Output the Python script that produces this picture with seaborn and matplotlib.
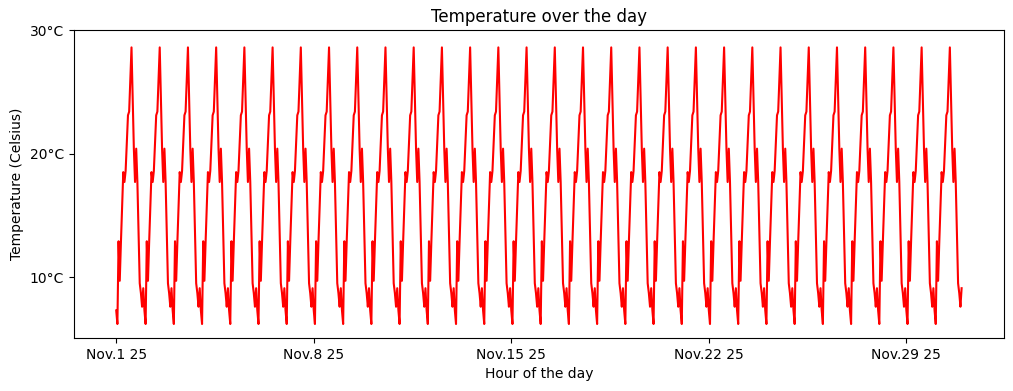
import matplotlib
matplotlib.use("Agg")
import matplotlib.pyplot as plt
import matplotlib.dates as mdates
from matplotlib.ticker import FuncFormatter
import pandas as pd
import numpy as np
import seaborn as sns

# hourly temperature profile (every day looks the same)
daily_temps = [7.3, 6.2, 12.9, 9.7, 12.8, 15.6, 18.5, 17.7, 18.6, 20.8, 23.1, 23.4,
               26.0, 28.6, 24.5, 20.4, 17.7, 20.4, 17.7, 13.6, 9.5, 8.7, 7.6, 9.1]
n_days = 30
start_date = "2025-11-01"
tick_dates = ["2025-11-01", "2025-11-08", "2025-11-15", "2025-11-22", "2025-11-29"]
y_ticks = [10, 20, 30]

hours = pd.date_range(start_date, periods=n_days * 24, freq="h")
df = pd.DataFrame({"time": hours, "temp": np.tile(daily_temps, n_days)})

fig, ax = plt.subplots(figsize=(10.13, 3.91), dpi=100)
sns.lineplot(data=df, x="time", y="temp", color="red", linewidth=1.5, ax=ax)

ax.set_xticks(pd.to_datetime(tick_dates))
ax.xaxis.set_major_formatter(FuncFormatter(
    lambda v, pos: (lambda d: f"{d.strftime('%b')}.{d.day} {d.strftime('%y')}")(mdates.num2date(v))))
ax.set_yticks(y_ticks)
ax.yaxis.set_major_formatter(FuncFormatter(lambda v, pos: f"{v:.0f}°C"))
ax.set_ylim(5.05, 30)

ax.set_title("Temperature over the day")
ax.set_xlabel("Hour of the day")
ax.set_ylabel("Temperature (Celsius)")

fig.subplots_adjust(left=0.073, right=0.991, top=0.923, bottom=0.135)
fig.savefig("out.png", dpi=100)
